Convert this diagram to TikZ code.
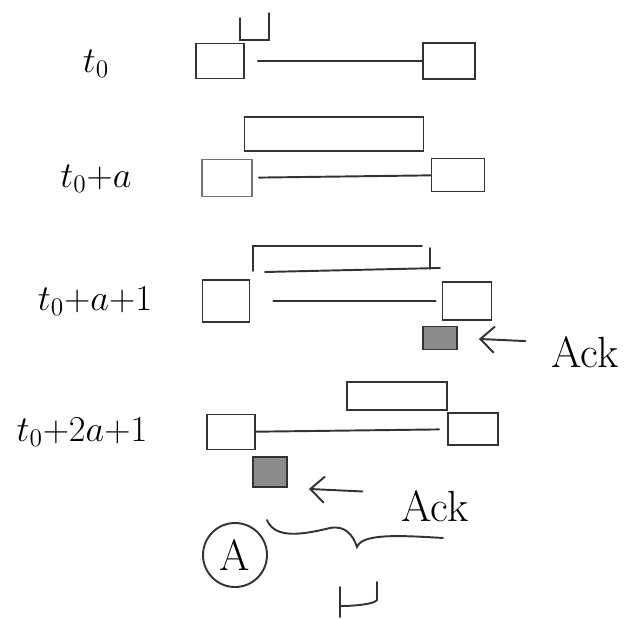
\documentclass[tikz,border=0pt]{standalone}
\usepackage{amsmath}
\usetikzlibrary{arrows.meta}

\tikzset{
  pen/.style={draw=black!80, line width=1.1pt, line cap=round},
  slot/.style={pen, inner sep=0pt},
  ackslot/.style={slot, fill=black!45},
  rowlabel/.style={font=\huge},
  acklabel/.style={font=\Huge},
  ackarrow/.style={pen, -{Straight Barb[length=8pt,width=15pt]}},
}

\begin{document}
\begin{tikzpicture}[x=0.02cm, y=-0.02cm]
\useasboundingbox (0,0) rectangle (628,618);

% row labels
\node[rowlabel] (t1) at (96,64) {$t_0$};
\node[rowlabel] (t2) at (96,179) {$t_0{+}a$};
\node[rowlabel] (t3) at (95,301) {$t_0{+}a{+}1$};
\node[rowlabel] (t4) at (82,432) {$t_0{+}2a{+}1$};

% sender and receiver slots
\node[slot, minimum width=0.96cm, minimum height=0.70cm] (s1) at (220,61) {};
\node[slot, minimum width=1.04cm, minimum height=0.72cm] (r1) at (449,61) {};
\node[slot, draw=black!55, minimum width=1.00cm, minimum height=0.74cm] (s2) at (227,178) {};
\node[slot, minimum width=1.06cm, minimum height=0.66cm] (r2) at (458,175) {};
\node[slot, minimum width=0.94cm, minimum height=0.84cm] (s3) at (226,301) {};
\node[slot, minimum width=0.98cm, minimum height=0.76cm] (r3) at (467,301) {};
\node[slot, minimum width=0.96cm, minimum height=0.70cm] (s4) at (231,432) {};
\node[slot, minimum width=1.00cm, minimum height=0.64cm] (r4) at (473,429) {};

% windows
\node[slot, minimum width=3.58cm, minimum height=0.68cm] (w2) at (334,134) {};
\node[slot, minimum width=2.00cm, minimum height=0.56cm] (w4) at (397,396) {};
\draw[pen] (253,271) |- (422,246);
\draw[pen] (430,248) -- (430,269);
\draw[pen] (265,272) -- (440,268);
\draw[pen] (240,18) |- (269,40) -- (269,13);

% links
\draw[pen, shorten <=0.26cm] (s1) -- (r1);
\draw[pen, shorten <=0.12cm] (s2) -- (r2);
\draw[pen, shorten <=0.46cm, shorten >=0.12cm] (s3) -- (r3);
\draw[pen, shorten >=0.16cm] (s4) -- (r4);

% acks
\node[ackslot, minimum width=0.68cm, minimum height=0.46cm] (a3) at (440,338) {};
\node[ackslot, minimum width=0.68cm, minimum height=0.60cm] (a4) at (270,472) {};
\node[acklabel] (k3) at (585,352) {Ack};
\node[acklabel] (k4) at (435,506) {Ack};
\draw[ackarrow, shorten <=0.4cm, shorten >=0.42cm] ([yshift=0.2cm]k3.west) -- (a3.east);
\draw[ackarrow, shorten <=0.66cm, shorten >=0.42cm] ([yshift=0.26cm]k4.west) -- (a4.south east);

% bottom
\node[pen, circle, minimum size=1.28cm, font=\Huge] (ca) at (235,555) {A};
\draw[pen] (267,520) .. controls (275,540) and (305,534) .. (330,528)
  .. controls (345,525) and (353,535) .. (357,547)
  .. controls (362,534) and (395,535) .. (443,538);
\draw[pen] (340,587) -- (340,617);
\draw[pen] (340,606) .. controls (356,606) and (374,604) .. (377,600) -- (377,582);

\end{tikzpicture}
\end{document}
